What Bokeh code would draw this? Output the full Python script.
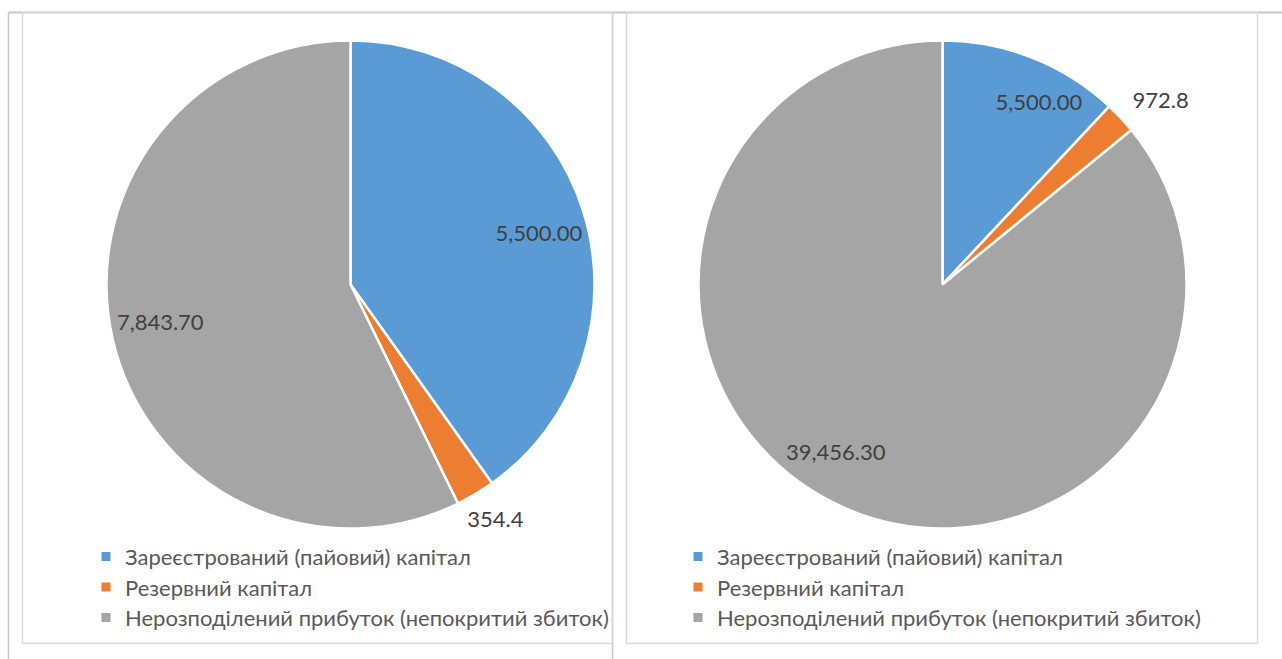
import math
from bokeh.plotting import figure
from bokeh.models import Range1d, ColumnDataSource
from bokeh.core.properties import value
from bokeh.embed import file_html
from bokeh.resources import INLINE

# ---- data ----
categories = ["Зареєстрований (пайовий) капітал",
              "Резервний капітал",
              "Нерозподілений прибуток (непокритий збиток)"]
values_left = [5500.00, 354.4, 7843.70]
values_right = [5500.00, 972.8, 39456.30]
labels_left = ["5,500.00", "354.4", "7,843.70"]
labels_right = ["5,500.00", "972.8", "39,456.30"]
colors = ["#5B9BD5", "#ED7D31", "#A5A5A5"]

# ---- styling / layout ----
W, H = 1282, 659
FONT = "Lato"
TXT = "#404040"
LEG = "#595959"

p = figure(width=W, height=H, output_backend="svg", toolbar_location=None,
           x_range=Range1d(0, W), y_range=Range1d(0, H),
           min_border=0, outline_line_color=None, background_fill_color="white")
p.axis.visible = False
p.grid.visible = False


def Y(sy):
    return H - sy


# table / chart frame lines
p.segment(x0=[8], y0=[Y(12)], x1=[W], y1=[Y(12)], line_color="#C6C6C6", line_width=2)
p.segment(x0=[8, 612], y0=[Y(12), Y(12)], x1=[8, 612], y1=[Y(H), Y(H)],
          line_color="#C6C6C6", line_width=1.5)
# chart borders
for (x0, x1) in [(22, 612), (626, 1257)]:
    p.line(x=[x0, x1, x1, x0, x0], y=[Y(12), Y(12), Y(643), Y(643), Y(12)],
           line_color="#D9D9D9", line_width=1.5)


def pie(cx, cy, r, vals, labs, shifts, rfac, legx):
    total = sum(vals)
    starts, ends, mids = [], [], []
    acc = 0.0
    for v in vals:
        a0 = acc / total * 2 * math.pi
        acc += v
        a1 = acc / total * 2 * math.pi
        starts.append(math.pi / 2 - a0)
        ends.append(math.pi / 2 - a1)
        mids.append((a0 + a1) / 2)
    src = ColumnDataSource(dict(x=[cx] * 3, y=[Y(cy)] * 3, s=starts, e=ends, c=colors))
    p.wedge(x="x", y="y", radius=r, radius_units="screen", start_angle="s", end_angle="e",
            direction="clock", fill_color="c", line_color="white", line_width=2.5, source=src)
    lx, ly = [], []
    for m, sh, rf in zip(mids, shifts, rfac):
        a = m + math.radians(sh)
        lx.append(cx + rf * r * math.sin(a))
        ly.append(Y(cy) + rf * r * math.cos(a))
    p.text(x=lx, y=ly, text=labs, text_font=value(FONT), text_font_size="22px",
           text_color=TXT, text_align="center", text_baseline="middle")
    # legend
    ys = [Y(556 + 30.5 * i) for i in range(3)]
    p.rect(x=[legx] * 3, y=ys, width=9, height=9, width_units="screen", height_units="screen",
           fill_color=colors, line_color=None)
    p.text(x=[legx + 19] * 3, y=ys, text=categories, text_font=value(FONT), text_font_size="22px",
           text_color=LEG, text_align="left", text_baseline="middle")


pie(350, 284, 244, values_left, labels_left, [2.5, -0.9, 1.8], [0.80, 1.13, 0.795], 105.5)
pie(942, 284, 244, values_right, labels_right, [6.3, 2.9, 7.1], [0.845, 1.17, 0.815], 697.5)

open("out.html", "w").write(file_html(p, INLINE))
